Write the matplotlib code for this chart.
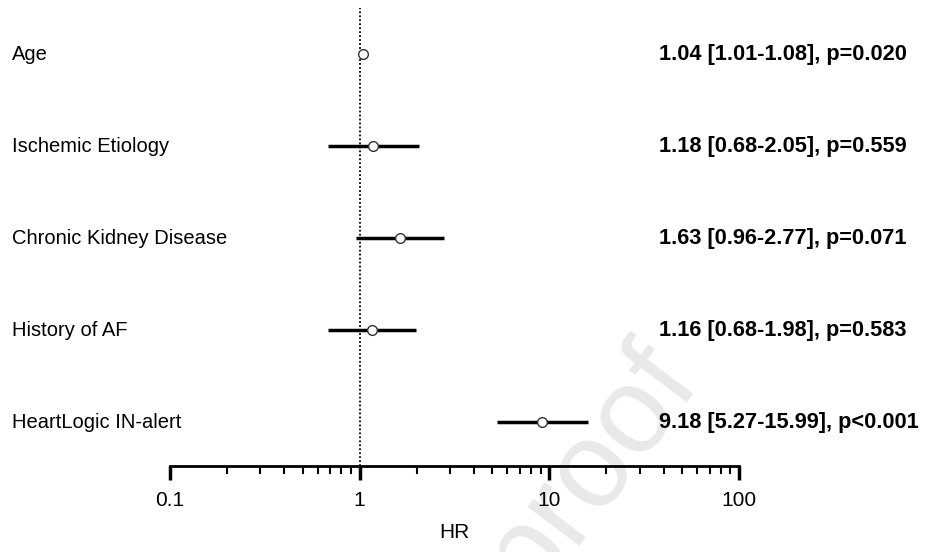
import matplotlib.pyplot as plt
import numpy as np

plt.rcParams['font.family'] = ['Liberation Sans', 'DejaVu Sans']

variables = ["Age", "Ischemic Etiology", "Chronic Kidney Disease",
             "History of AF", "HeartLogic IN-alert"]
hr = [1.04, 1.18, 1.63, 1.16, 9.18]
ci_low = [1.01, 0.68, 0.96, 0.68, 5.27]
ci_high = [1.08, 2.05, 2.77, 1.98, 15.99]
p_text = ["p=0.020", "p=0.559", "p=0.071", "p=0.583", "p<0.001"]
xticks = [0.1, 1, 10, 100]
xtick_labels = ["0.1", "1", "10", "100"]

fig = plt.figure(figsize=(9.29, 5.52), dpi=100)
ax = fig.add_axes([170 / 929, 1 - 466 / 552, 569 / 929, 458 / 552])
ax.patch.set_alpha(0)

# faint watermark behind everything
fig.text(0.635, 0.15, "proof", rotation=53, fontsize=88, color="#e9e9e9",
         ha="center", va="center", zorder=-5)

ypos = np.arange(len(variables))[::-1]

ax.axvline(1, color="black", linestyle=(0, (1, 1.2)), linewidth=1.3, zorder=1)
for y, h, lo, hi in zip(ypos, hr, ci_low, ci_high):
    ax.plot([lo, hi], [y, y], color="black", linewidth=2.5, zorder=2,
            solid_capstyle="butt")
ax.plot(hr, ypos, "o", markersize=7, markerfacecolor="white",
        markeredgecolor="#333333", markeredgewidth=1.0, zorder=3)

ax.set_xscale("log")
ax.set_xlim(0.1, 100)
ax.set_ylim(-0.478, 4.5)
ax.set_xticks(xticks)
ax.set_xticklabels(xtick_labels)
ax.set_yticks([])
for s in ["top", "right", "left"]:
    ax.spines[s].set_visible(False)
ax.spines["bottom"].set_linewidth(2)
ax.tick_params(axis="x", which="major", length=10, width=2.5, labelsize=15,
               pad=8)
ax.tick_params(axis="x", which="minor", length=6, width=1.5)
ax.set_xlabel("HR", fontsize=15, labelpad=9)

trans = ax.get_yaxis_transform()
for y, name, h, lo, hi, p in zip(ypos, variables, hr, ci_low, ci_high, p_text):
    ax.text(-0.2777, y, name, transform=trans, ha="left", va="center",
            fontsize=14.5, clip_on=False)
    ax.text(0.859, y, f"{h:.2f} [{lo:.2f}-{hi:.2f}], {p}", transform=trans,
            ha="left", va="center", fontsize=15.7, fontweight="bold",
            clip_on=False)

fig.savefig("out.png", dpi=100)
